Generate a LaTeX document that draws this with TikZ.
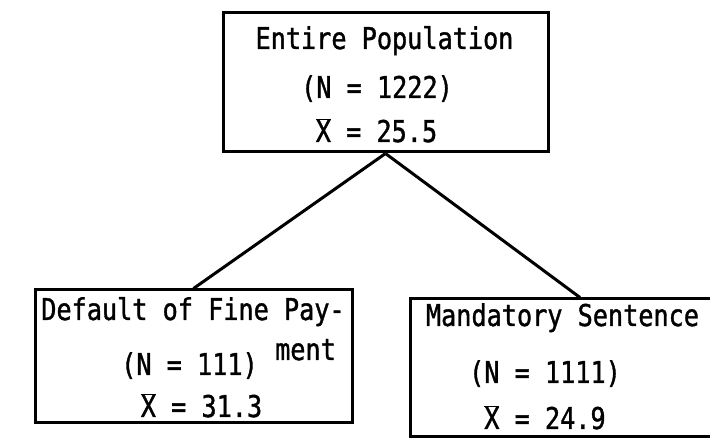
\documentclass[tikz,border=0pt]{standalone}
\usepackage{fontspec}
\newfontfamily\tw[FakeStretch=0.84,FakeBold=1.2]{DejaVu Sans Mono}
\begin{document}
\begin{tikzpicture}[x=1pt,y=1pt,
  box/.style={draw, line width=3pt, inner sep=0pt},
  lbl/.style={anchor=base, inner sep=0pt, font=\tw\fontsize{30}{34}\selectfont},
  link/.style={line width=3pt}]
\useasboundingbox (0,0) rectangle (710,442);
% boxes
\node[box, minimum width=325pt, minimum height=139pt] (top) at (385.5,359.5) {};
\node[box, minimum width=317pt, minimum height=133pt] (left) at (193.5,85.5) {};
\node[box, minimum width=306pt, minimum height=138pt] (right) at (563,74) {};
% top texts
\node[lbl] (t1) at (384.5,393) {Entire Population};
\node[lbl] (t2) at (377,344) {(N = 1222)};
\node[lbl] (t3) at (376.5,300) {$\overline{\hbox{X}}$ = 25.5};
% left texts
\node[lbl] (l1) at (193,122) {Default of Fine Pay-};
\node[lbl] (l2) at (189.5,67) {(N = 111)};
\node[lbl] (l4) at (305.5,82) {ment};
\node[lbl] (l3) at (201.5,25) {$\overline{\hbox{X}}$ = 31.3};
% right texts
\node[lbl] (r1) at (562.5,116) {Mandatory Sentence};
\node[lbl] (r2) at (545,59) {(N = 1111)};
\node[lbl] (r3) at (545,13) {$\overline{\hbox{X}}$ = 24.9};
% connectors
\draw[link] (top.south) -- (left.north);
\draw[link] (top.south) -- ([xshift=17pt]right.north);
\end{tikzpicture}
\end{document}
